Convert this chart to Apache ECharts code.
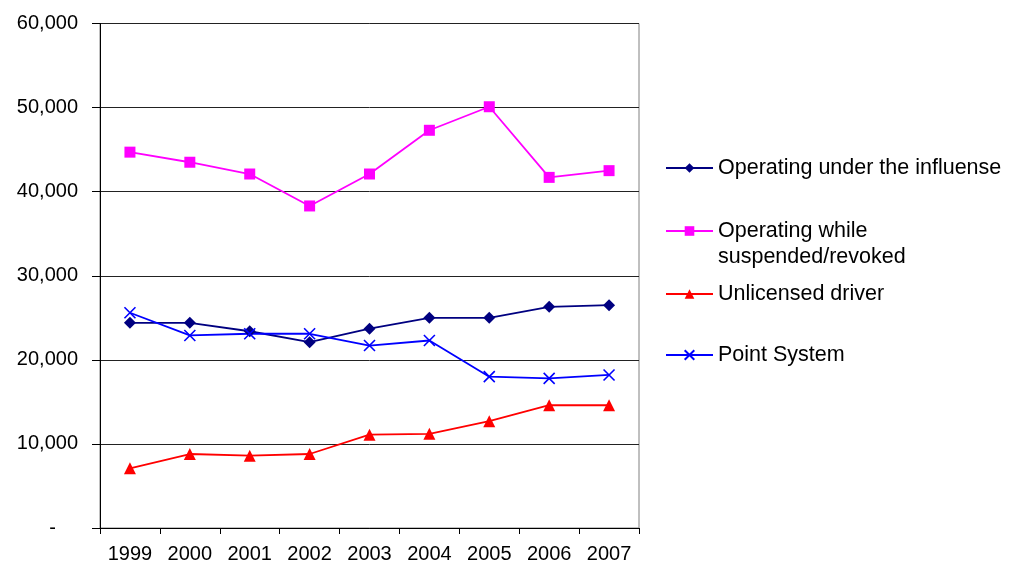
<!DOCTYPE html>
<html>
<head>
<meta charset="utf-8">
<script src="https://cdn.jsdelivr.net/npm/echarts@6/dist/echarts.min.js"></script>
<style>
  html, body { margin: 0; padding: 0; background: #fff; }
  #chart { width: 1012px; height: 570px; }
</style>
</head>
<body>
<div id="chart"></div>
<script>
var years = ['1999', '2000', '2001', '2002', '2003', '2004', '2005', '2006', '2007'];
var influence = [24400, 24400, 23400, 22100, 23700, 25000, 25000, 26300, 26500];
var suspended = [44700, 43500, 42100, 38300, 42100, 47300, 50100, 41700, 42500];
var unlicensed = [7100, 8800, 8600, 8800, 11100, 11200, 12700, 14600, 14600];
var pointSystem = [25600, 22900, 23100, 23100, 21700, 22300, 18000, 17800, 18200];

var seriesNames = [
    'Operating under the influense',
    'Operating while\nsuspended/revoked',
    'Unlicensed driver',
    'Point System'
];

var font = 'Liberation Sans, Arial, sans-serif';
var chart = echarts.init(document.getElementById('chart'));

// one legend per entry, so the two-line entry keeps its own spacing
function legendAt(name, top, formatter) {
    var lg = {
        data: [name],
        left: 665,
        top: top,
        padding: 0,
        itemWidth: 47,
        itemHeight: 12,
        itemGap: 6,
        selectedMode: false,
        textStyle: { fontFamily: font, fontSize: 21.5, color: '#000', lineHeight: 26 }
    };
    if (formatter) lg.formatter = formatter;
    return lg;
}

chart.setOption({
    animation: false,
    backgroundColor: '#fff',
    grid: { left: 100, top: 23.5, right: 373, bottom: 42, show: true, borderColor: '#808080', borderWidth: 1 },
    legend: [
        legendAt(seriesNames[0], 155),
        // blank first line so the first text line sits level with the symbol
        legendAt(seriesNames[1], 192, function (name) { return ' \n' + name; }),
        legendAt(seriesNames[2], 281),
        legendAt(seriesNames[3], 342)
    ],
    xAxis: {
        type: 'category',
        data: years,
        boundaryGap: true,
        axisLine: { lineStyle: { color: '#000', width: 1 } },
        axisTick: { show: true, length: 6, lineStyle: { color: '#000' } },
        axisLabel: { fontFamily: font, fontSize: 20, color: '#000', margin: 16 },
        splitLine: { show: false }
    },
    yAxis: {
        type: 'value',
        min: 0,
        max: 60000,
        interval: 10000,
        axisLine: { show: true, lineStyle: { color: '#000', width: 1 } },
        axisTick: { show: true, length: 8, lineStyle: { color: '#000' } },
        axisLabel: {
            fontFamily: font, fontSize: 20, color: '#000', margin: 22,
            formatter: function (v) {
                return v === 0 ? '{d|-}' : v.toLocaleString('en-US');
            },
            rich: { d: { fontFamily: font, fontSize: 20, color: '#000', padding: [0, 22, 0, 0] } }
        },
        splitLine: { show: true, lineStyle: { color: '#222', width: 1 } }
    },
    series: [
        {
            name: seriesNames[0], type: 'line', data: influence,
            symbol: 'diamond', symbolSize: 12,
            itemStyle: { color: '#000080' },
            lineStyle: { color: '#000080', width: 1.8 }
        },
        {
            name: seriesNames[1], type: 'line', data: suspended,
            symbol: 'rect', symbolSize: 11,
            itemStyle: { color: '#FF00FF' },
            lineStyle: { color: '#FF00FF', width: 1.8 }
        },
        {
            name: seriesNames[2], type: 'line', data: unlicensed,
            symbol: 'triangle', symbolSize: 12,
            itemStyle: { color: '#FF0000' },
            lineStyle: { color: '#FF0000', width: 1.8 }
        },
        {
            name: seriesNames[3], type: 'line', data: pointSystem,
            symbol: 'path://M0,0L10,10M10,0L0,10', symbolSize: 11,
            itemStyle: { color: '#0000FF', borderColor: '#0000FF', borderWidth: 1.6 },
            lineStyle: { color: '#0000FF', width: 1.8 }
        }
    ]
});
</script>
</body>
</html>
